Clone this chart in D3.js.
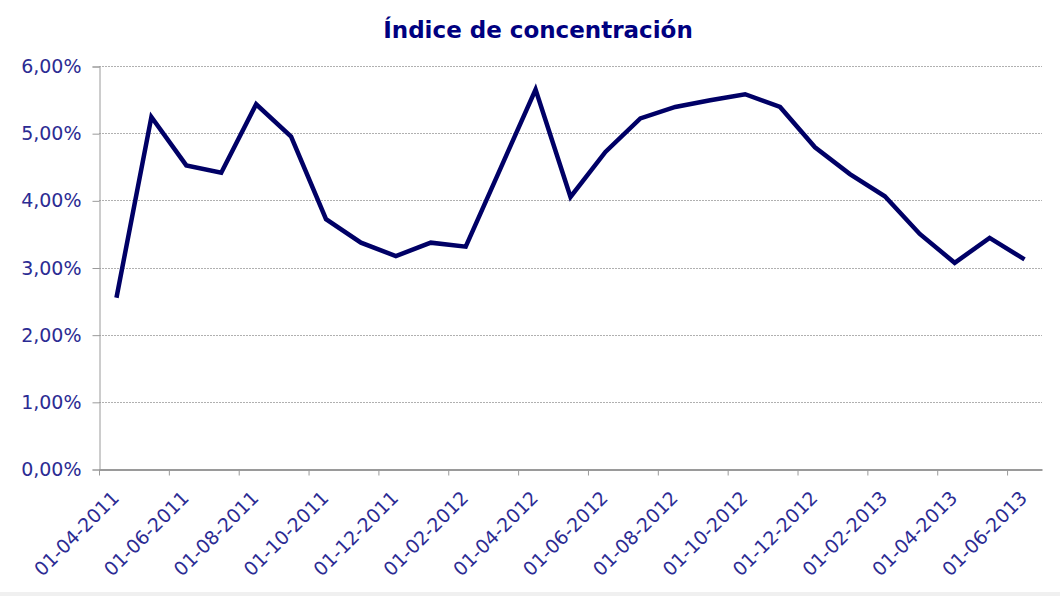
<!DOCTYPE html>
<html>
<head>
<meta charset="utf-8">
<script src="https://cdn.jsdelivr.net/npm/d3@7"></script>
<style>
    html, body { margin: 0; padding: 0; background: #fff; }
    svg { display: block; }
</style>
</head>
<body>
<div id="chart"></div>
<script>
// Monthly observations, April 2011 .. June 2013 (one per month)
var months = ["2011-04", "2011-05", "2011-06", "2011-07", "2011-08", "2011-09", "2011-10",
    "2011-11", "2011-12", "2012-01", "2012-02", "2012-03", "2012-04", "2012-05", "2012-06",
    "2012-07", "2012-08", "2012-09", "2012-10", "2012-11", "2012-12", "2013-01", "2013-02",
    "2013-03", "2013-04", "2013-05", "2013-06"];
var indice = [2.55, 5.24, 4.52, 4.41, 5.43, 4.95, 3.72, 3.37, 3.17, 3.37, 3.31, 4.48, 5.65,
    4.05, 4.72, 5.22, 5.39, 5.49, 5.58, 5.39, 4.79, 4.39, 4.06, 3.50, 3.07, 3.44, 3.12];
var yTicks = [0, 1, 2, 3, 4, 5, 6];
var xTickLabels = ["01-04-2011", "01-06-2011", "01-08-2011", "01-10-2011", "01-12-2011",
    "01-02-2012", "01-04-2012", "01-06-2012", "01-08-2012", "01-10-2012", "01-12-2012",
    "01-02-2013", "01-04-2013", "01-06-2013"];

(function () {
    "use strict";

    var width = 1060,
        height = 596,
        margin = {top: 66, right: 18, bottom: 127, left: 99},
        navy = "#000066",
        labelColor = "#2b2b93",
        axisColor = "#9a9a9a",
        font = "'DejaVu Sans', Verdana, sans-serif";

    var svg = d3.select("#chart").append("svg")
        .attr("width", width)
        .attr("height", height);

    // x: month index, each month one equal slot (Excel style date axis)
    var x = d3.scaleLinear()
        .domain([0, months.length])
        .range([margin.left, width - margin.right]);

    var y = d3.scaleLinear()
        .domain([0, 6])
        .range([height - margin.bottom, margin.top]);

    // Title
    svg.append("text")
        .attr("x", 538)
        .attr("y", 38)
        .attr("text-anchor", "middle")
        .style("font-family", font)
        .style("font-weight", "bold")
        .style("font-size", "23px")
        .style("fill", "#000080")
        .text("Índice de concentración");

    // Gridlines
    svg.append("g")
        .selectAll("line")
        .data(yTicks.filter(function (d) { return d > 0; }))
        .enter().append("line")
        .attr("x1", x(0))
        .attr("x2", x(months.length))
        .attr("y1", function (d) { return Math.round(y(d)) + 0.5; })
        .attr("y2", function (d) { return Math.round(y(d)) + 0.5; })
        .style("stroke", "#b0b0b0")
        .style("stroke-width", 1)
        .style("stroke-dasharray", "2,1");

    // Y axis
    var yAxis = d3.axisLeft(y)
        .tickValues(yTicks)
        .tickSize(7)
        .tickPadding(11)
        .tickFormat(function (d) { return d3.format(".2f")(d).replace(".", ",") + "%"; });

    var yg = svg.append("g")
        .attr("transform", "translate(" + (x(0) + 0.5) + ",0.5)")
        .call(yAxis);
    yg.select(".domain").style("stroke", axisColor);
    yg.selectAll(".tick line").style("stroke", axisColor);
    yg.selectAll("text")
        .style("font-family", font)
        .style("font-size", "19px")
        .style("fill", labelColor);

    // X axis: tick every two months at the start of the month slot
    var tickIdx = d3.range(0, months.length, 2);
    var xAxis = d3.axisBottom(x)
        .tickValues(tickIdx)
        .tickSize(6)
        .tickSizeOuter(0)
        .tickFormat(function (d, i) { return xTickLabels[i]; });

    var xg = svg.append("g")
        .attr("transform", "translate(0," + (Math.round(y(0)) + 0.5) + ")")
        .call(xAxis);
    xg.select(".domain").style("stroke", axisColor).style("stroke-width", 2);
    xg.selectAll(".tick line").style("stroke", axisColor);
    xg.selectAll("text")
        .style("font-family", font)
        .style("font-size", "19px")
        .style("fill", labelColor)
        .attr("text-anchor", "end")
        .attr("dy", "0.35em")
        .attr("transform", "translate(16,25) rotate(-45)")
        .attr("y", 0)
        .attr("x", 0);

    // The line
    var line = d3.line()
        .x(function (d, i) { return x(i + 0.5); })
        .y(function (d) { return y(d); });

    svg.append("path")
        .datum(indice)
        .attr("d", line)
        .style("fill", "none")
        .style("stroke", navy)
        .style("stroke-width", 4.5)
        .style("stroke-linejoin", "miter");

    // faint frame edge at the bottom
    svg.append("rect")
        .attr("x", 0)
        .attr("y", 592)
        .attr("width", width)
        .attr("height", 4)
        .style("fill", "#f0f0f0");
}());
</script>
</body>
</html>
